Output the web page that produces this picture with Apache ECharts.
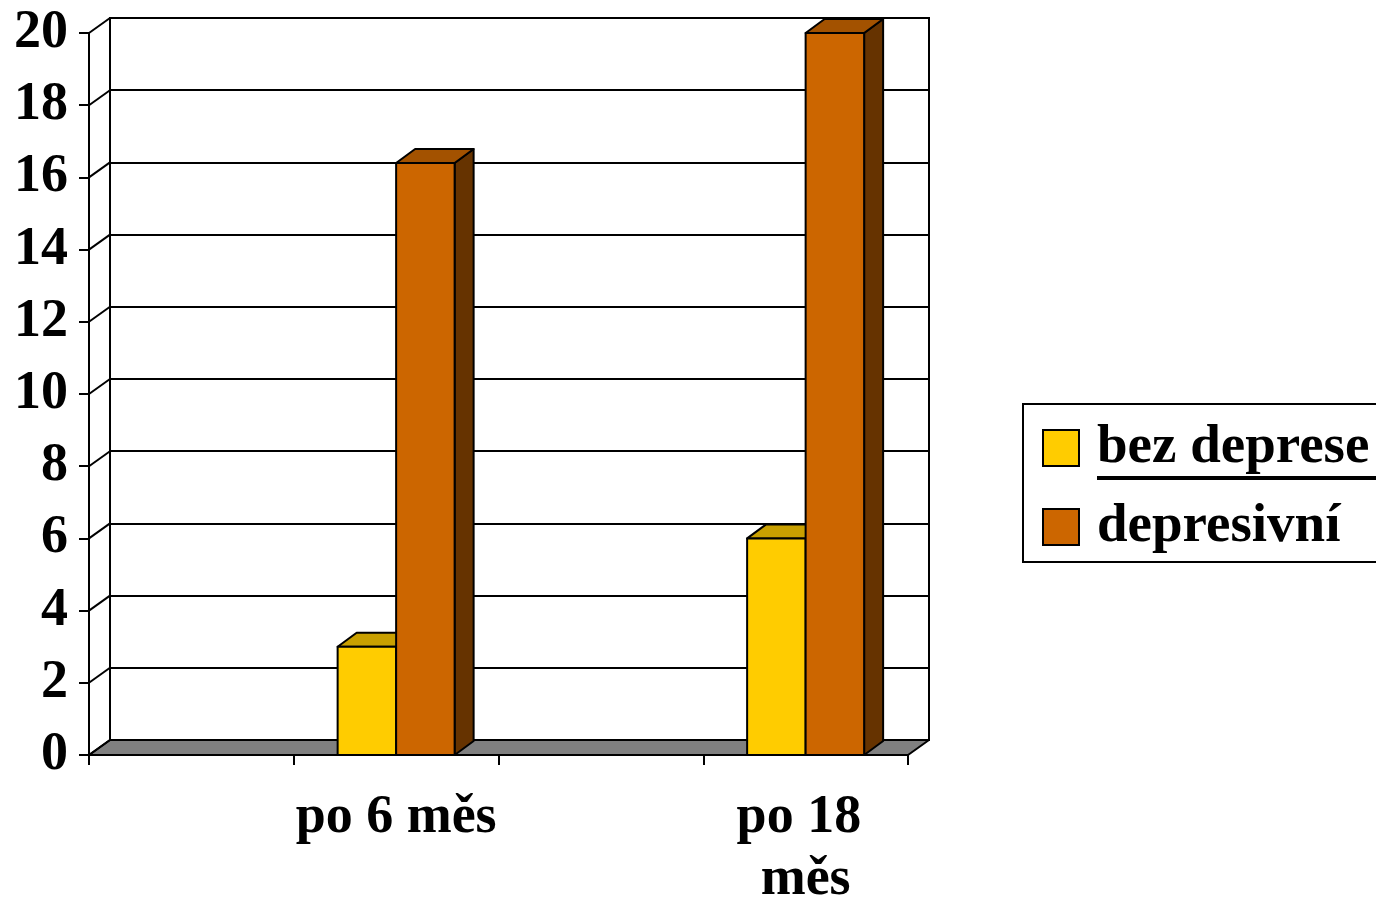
<!DOCTYPE html>
<html><head><meta charset="utf-8">
<script src="https://cdn.jsdelivr.net/npm/echarts@6/dist/echarts.min.js"></script>
<style>html,body{margin:0;padding:0;background:#fff}#c{width:1376px;height:900px}</style>
</head><body><div id="c"></div>
<script>
// ---- data ----
const categories = ['', 'po 6 měs', '', 'po 18 měs'];
const bezDeprese = [null, 3, null, 6];
const depresivni = [null, 16.4, null, 20];
const yTicks = [0, 2, 4, 6, 8, 10, 12, 14, 16, 18, 20];
const seriesNames = ['bez deprese', 'depresivní'];

// ---- style ----
const FONT = '"Liberation Serif", "Times New Roman", serif';
const DEPTH = [19, -14];
const WALL = [21, -15];
const BAR_FRAC = 0.2857;

function toPoints(arr) { const out = []; arr.forEach((v, i) => { if (v != null) out.push([i, v]); }); return out; }

function barRender(side, colors) {
  return function (params, api) {
    const ci = api.value(0), v = api.value(1);
    const top = api.coord([ci, v]);
    const base = api.coord([ci, 0]);
    const bw = api.size([1, 0])[0] * BAR_FRAC;
    const x0 = side < 0 ? top[0] - bw : top[0];
    const x1 = x0 + bw;
    const yt = top[1], yb = base[1];
    const dx = DEPTH[0], dy = DEPTH[1];
    const st = { stroke: '#000', lineWidth: 2, lineJoin: 'round' };
    return { type: 'group', children: [
      { type: 'polygon', shape: { points: [[x1, yb], [x1 + dx, yb + dy], [x1 + dx, yt + dy], [x1, yt]] }, style: Object.assign({ fill: colors.side }, st) },
      { type: 'polygon', shape: { points: [[x0, yt], [x0 + dx, yt + dy], [x1 + dx, yt + dy], [x1, yt]] }, style: Object.assign({ fill: colors.top }, st) },
      { type: 'rect', shape: { x: x0, y: yt, width: bw, height: yb - yt }, style: Object.assign({ fill: colors.front }, st) }
    ]};
  };
}

const chart = echarts.init(document.getElementById('c'));
const labelBase = { fontFamily: FONT, fontWeight: 'bold', color: '#000' };
chart.setOption({
  animation: false,
  backgroundColor: '#fff',
  grid: [
    { left: 89, top: 33, width: 819, height: 722, containLabel: false, outerBoundsMode: 'none' },
    { left: 110, top: 18, width: 819, height: 722, containLabel: false, outerBoundsMode: 'none', show: true, borderColor: '#000', borderWidth: 2, backgroundColor: 'transparent' }
  ],
  xAxis: [
    { type: 'category', gridIndex: 0, data: categories, boundaryGap: true,
      axisLine: { show: true, lineStyle: { color: '#000', width: 2 } },
      axisTick: { show: true, length: 10, interval: 0, lineStyle: { color: '#000', width: 2 } },
      axisLabel: Object.assign({ interval: 0, fontSize: 54, margin: 32, lineHeight: 62, width: 245, overflow: 'break' }, labelBase),
      splitLine: { show: false } },
    { type: 'category', gridIndex: 1, data: categories, show: false }
  ],
  yAxis: [
    { type: 'value', gridIndex: 0, min: 0, max: 20, interval: 2,
      axisLine: { show: true, lineStyle: { color: '#000', width: 2 } },
      axisTick: { show: true, length: 10, lineStyle: { color: '#000', width: 2 } },
      axisLabel: Object.assign({ fontSize: 54, margin: 21 }, labelBase),
      splitLine: { show: false } },
    { type: 'value', gridIndex: 1, min: 0, max: 20, interval: 2,
      axisLine: { show: false }, axisTick: { show: false }, axisLabel: { show: false },
      splitLine: { show: true, lineStyle: { color: '#000', width: 2 } } }
  ],
  legend: {
    data: seriesNames, orient: 'vertical', left: 1023, top: 404,
    padding: [14, 20, 5, 19], itemGap: 19, itemWidth: 36, itemHeight: 36,
    backgroundColor: '#fff', borderColor: '#000', borderWidth: 2,
    icon: 'rect', itemStyle: { borderColor: '#000', borderWidth: 2 },
    textStyle: Object.assign({ fontSize: 55, lineHeight: 60, padding: [0, 0, 0, 13] }, labelBase),
    selectedMode: false
  },
  graphic: [
    { type: 'line', shape: { x1: 1097, y1: 478, x2: 1376, y2: 478 }, style: { stroke: '#000', lineWidth: 4 }, z: 100 }
  ],
  series: [
    { type: 'custom', name: 'floor', xAxisIndex: 0, yAxisIndex: 0, silent: true, z: 2,
      data: [[0, 0]], encode: { x: 0, y: 1 },
      renderItem: function (params, api) {
        const cs = params.coordSys;
        const x = cs.x, y = api.coord([0, 0])[1], w = cs.width;
        return { type: 'polygon', shape: { points: [[x, y], [x + w, y], [x + w + WALL[0], y + WALL[1]], [x + WALL[0], y + WALL[1]]] },
          style: { fill: '#808080', stroke: '#000', lineWidth: 2, lineJoin: 'round' } };
      } },
    { type: 'custom', name: 'wall', xAxisIndex: 0, yAxisIndex: 0, silent: true, z: 2,
      data: yTicks.map(v => [0, v]), encode: { x: 0, y: 1 },
      renderItem: function (params, api) {
        const cs = params.coordSys;
        const y = api.coord([0, api.value(1)])[1];
        return { type: 'line', shape: { x1: cs.x, y1: y, x2: cs.x + WALL[0], y2: y + WALL[1] }, style: { stroke: '#000', lineWidth: 2 } };
      } },
    { type: 'custom', name: seriesNames[0], xAxisIndex: 0, yAxisIndex: 0, z: 3,
      itemStyle: { color: '#FFCC00', borderColor: '#000', borderWidth: 2 },
      data: toPoints(bezDeprese), encode: { x: 0, y: 1 },
      renderItem: barRender(-1, { front: '#FFCC00', top: '#C9A000', side: '#806600' }) },
    { type: 'custom', name: seriesNames[1], xAxisIndex: 0, yAxisIndex: 0, z: 4,
      itemStyle: { color: '#CC6600', borderColor: '#000', borderWidth: 2 },
      data: toPoints(depresivni), encode: { x: 0, y: 1 },
      renderItem: barRender(1, { front: '#CC6600', top: '#A35200', side: '#663300' }) }
  ]
});
</script>
</body></html>
